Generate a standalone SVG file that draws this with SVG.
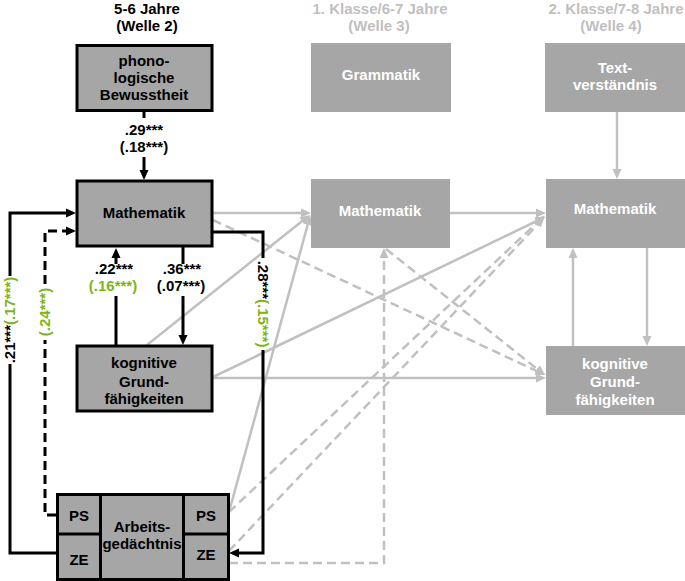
<svg xmlns="http://www.w3.org/2000/svg" width="685" height="581" viewBox="0 0 685 581">
<defs>
<style>
text{font-family:"Liberation Sans",Arial,sans-serif;font-weight:bold;font-size:15px;text-anchor:middle}
.bx{fill:#a6a6a6;stroke:#000;stroke-width:3}
.gb{fill:#a6a6a6}
.wt{fill:#ffffff}
.ht{fill:#bfbfbf}
.g{fill:#7cb518}
.k{fill:#000}
.bl{fill:none;stroke:#000;stroke-width:3}
.bd{fill:none;stroke:#000;stroke-width:3;stroke-dasharray:9 5}
.gl{fill:none;stroke:#c0c0c0;stroke-width:2.5}
.gd{fill:none;stroke:#c0c0c0;stroke-width:2.5;stroke-dasharray:9 5}
</style>
<marker id="ab" markerWidth="10" markerHeight="10" refX="5" refY="5" orient="auto" markerUnits="userSpaceOnUse"><path d="M0,0.5 L10,5 L0,9.5 z" fill="#000"/></marker>
<marker id="ag" markerWidth="10" markerHeight="10" refX="5" refY="5" orient="auto" markerUnits="userSpaceOnUse"><path d="M0,0.5 L10,5 L0,9.5 z" fill="#c0c0c0"/></marker>
</defs>
<rect width="685" height="581" fill="#fff"/>

<g id="headers">
<text x="147" y="14" class="k">5-6 Jahre</text>
<text x="147" y="31" class="k">(Welle 2)</text>
<text x="380" y="14" class="ht">1. Klasse/6-7 Jahre</text>
<text x="379" y="31" class="ht">(Welle 3)</text>
<text x="616" y="14" class="ht">2. Klasse/7-8 Jahre</text>
<text x="611" y="31" class="ht">(Welle 4)</text>
</g>

<g id="connectors">
<!-- gray connectors -->
<path class="gl" d="M213,213 H306" marker-end="url(#ag)"/>
<path class="gl" d="M147,345 L306,218" marker-end="url(#ag)"/>
<path class="gl" d="M229,512 L309,220" marker-end="url(#ag)"/>
<path class="gl" d="M450,213 H541" marker-end="url(#ag)"/>
<path class="gl" d="M213,377 L541,219" marker-end="url(#ag)"/>
<path class="gd" d="M229,512 L541,219" marker-end="url(#ag)"/>
<path class="gd" d="M229,551 L541,221" marker-end="url(#ag)"/>
<path class="gl" d="M213,378 H541" marker-end="url(#ag)"/>
<path class="gd" d="M213,220 L541,373" marker-end="url(#ag)"/>
<path class="gd" d="M386,249 L541,372" marker-end="url(#ag)"/>
<path class="gd" d="M229,563 H384 V253" marker-end="url(#ag)"/>
<path class="gl" d="M617,112 V174" marker-end="url(#ag)"/>
<path class="gl" d="M573,346 V253" marker-end="url(#ag)"/>
<path class="gl" d="M647,248 V341" marker-end="url(#ag)"/>

<!-- black connectors -->
<path class="bl" d="M144,111 V118"/>
<path class="bl" d="M144,157 V175" marker-end="url(#ab)"/>
<path class="bl" d="M116,345 V296"/>
<path class="bl" d="M116,264 V253" marker-end="url(#ab)"/>
<path class="bl" d="M183,247 V264"/>
<path class="bl" d="M183,296 V340" marker-end="url(#ab)"/>
<path class="bl" d="M56,553 H10 V364"/>
<path class="bl" d="M10,276 V213 H71" marker-end="url(#ab)"/>
<path class="bd" d="M56,515 H45 V340"/>
<path class="bd" d="M45,284 V231 H71" marker-end="url(#ab)"/>
<path class="bl" d="M213,232 H263 V258"/>
<path class="bl" d="M263,350 V553 H234" marker-end="url(#ab)"/>

<!-- labels -->
<text x="144" y="135" class="k">.29***</text>
<text x="144" y="152" class="k">(.18***)</text>
<text x="114" y="274" class="k">.22***</text>
<text x="113" y="291" class="g">(.16***)</text>
<text x="182" y="274" class="k">.36***</text>
<text x="181" y="291" class="k">(.07***)</text>
<text transform="translate(15,320) rotate(-90)"><tspan class="k">.21***</tspan><tspan class="g">(.17***)</tspan></text>
<text transform="translate(50,312) rotate(-90)" class="g">(.24***)</text>
<text transform="translate(258,304) rotate(90)"><tspan class="k">.28***</tspan><tspan class="g">(.15***)</tspan></text>
</g>

<g id="phon">
<rect class="bx" x="77" y="45.5" width="135" height="65"/>
<text x="144" y="66" class="k">phono-</text>
<text x="144" y="83" class="k">logische</text>
<text x="144" y="100" class="k">Bewusstheit</text>
</g>

<g id="math1">
<rect class="bx" x="77" y="181" width="135" height="65"/>
<text x="144" y="218" class="k">Mathematik</text>
</g>

<g id="kog1">
<rect class="bx" x="77" y="346" width="135" height="65"/>
<text x="144" y="368" class="k">kognitive</text>
<text x="144" y="387" class="k">Grund-</text>
<text x="144" y="404" class="k">fähigkeiten</text>
</g>

<g id="ag">
<rect class="bx" x="57.5" y="494.5" width="171" height="85"/>
<path class="bl" d="M100.5,494.5 V579.5 M183.5,494.5 V579.5 M57.5,534 H100.5 M183.5,534 H228.5"/>
<text x="79" y="521" class="k">PS</text>
<text x="79" y="565" class="k">ZE</text>
<text x="142" y="532" class="k">Arbeits-</text>
<text x="142" y="549" class="k">gedächtnis</text>
<text x="206" y="521" class="k">PS</text>
<text x="206" y="560" class="k">ZE</text>
</g>

<g id="gram">
<rect class="gb" x="311" y="43" width="140" height="69"/>
<text x="381" y="80" class="wt">Grammatik</text>
</g>

<g id="math2">
<rect class="gb" x="311" y="179" width="139" height="69"/>
<text x="380" y="216" class="wt">Mathematik</text>
</g>

<g id="text4">
<rect class="gb" x="545" y="43" width="140" height="69"/>
<text x="615" y="73" class="wt">Text-</text>
<text x="615" y="90" class="wt">verständnis</text>
</g>

<g id="math3">
<rect class="gb" x="546" y="179" width="139" height="69"/>
<text x="615" y="214" class="wt">Mathematik</text>
</g>

<g id="kog3">
<rect class="gb" x="546" y="346" width="139" height="69"/>
<text x="615" y="369" class="wt">kognitive</text>
<text x="615" y="387" class="wt">Grund-</text>
<text x="615" y="405" class="wt">fähigkeiten</text>
</g>
</svg>
